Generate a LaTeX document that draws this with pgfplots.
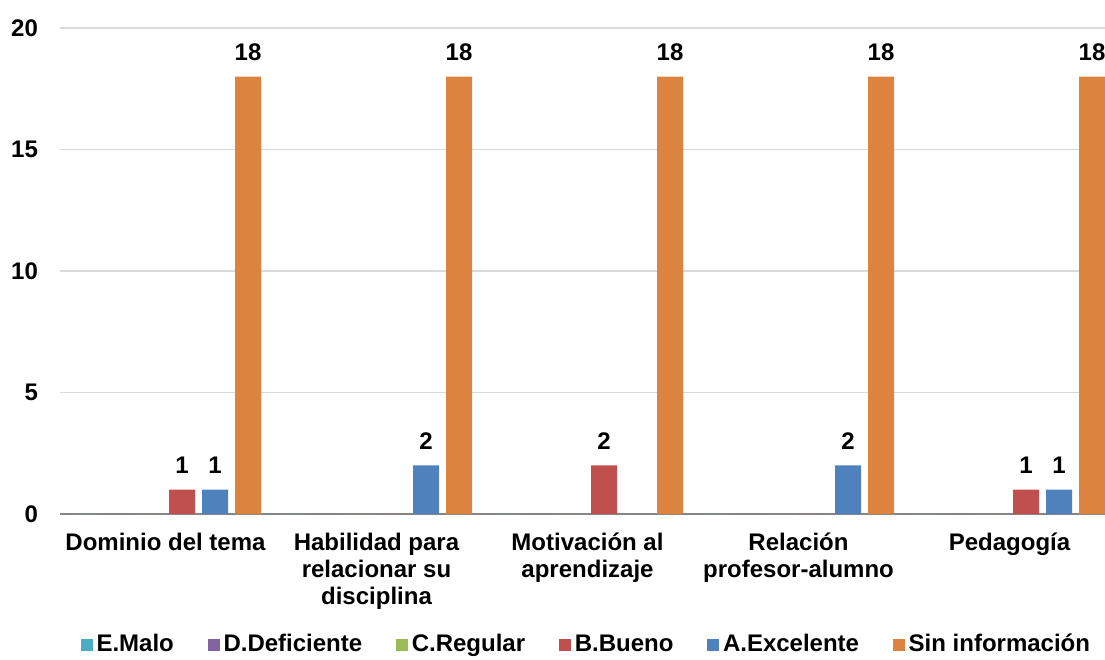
\documentclass[border=0pt]{standalone}
\usepackage{pgfplots}
\pgfplotsset{compat=1.18}
\usepackage{fontspec}
\setmainfont{Liberation Sans}
\definecolor{cMalo}{HTML}{4BACC6}
\definecolor{cDef}{HTML}{8064A2}
\definecolor{cReg}{HTML}{9BBB59}
\definecolor{cBueno}{HTML}{C0504D}
\definecolor{cExc}{HTML}{4F81BD}
\definecolor{cSin}{HTML}{DC843F}
\definecolor{gridgray}{HTML}{D9D9D9}
\definecolor{axisgray}{HTML}{868686}
\newcommand{\chartfont}{\fontsize{12}{13.5}\selectfont\bfseries}
\begin{document}
\begin{tikzpicture}
\begin{axis}[
  name=ax,
  scale only axis,
  width=527.5pt, height=243pt,
  ybar=3.5pt, bar width=13pt,
  xmin=-0.5, xmax=4.5, ymin=0, ymax=20,
  xtick={0,...,4},
  xticklabels={Dominio del tema, Habilidad para\\relacionar su\\disciplina, Motivación al\\aprendizaje, Relación\\profesor-alumno, Pedagogía},
  ytick={0,5,...,20},
  axis x line*=bottom, axis y line*=left,
  y axis line style={draw=none},
  x axis line style={draw=axisgray, line width=0.9pt},
  tick style={draw=none}, major tick length=0pt,
  ymajorgrids, grid style={draw=gridgray, line width=0.6pt},
  /pgf/number format/assume math mode=true,
  tick label style={font=\chartfont},
  xticklabel style={align=center, yshift=-6pt},
  yticklabel style={xshift=-7.5pt},
  nodes near coords={\pgfmathfloatifflags{\pgfplotspointmeta}{0}{}{\pgfmathprintnumber{\pgfplotspointmeta}}},
  every node near coord/.append style={font=\chartfont, text=black, yshift=4.5pt},
  legend columns=6,
  legend style={at={(0.5,-0.2695)}, anchor=center, draw=none, font=\chartfont,
    nodes={text height=1.75ex, text depth=0.5ex},
    /tikz/every even column/.append style={column sep=15pt}},
  legend image code/.code={\fill[#1] (0pt,-2.9pt) rectangle (5.8pt,2.9pt);},
]
\addplot[fill=cMalo, draw=none] coordinates {(0,0) (1,0) (2,0) (3,0) (4,0)};
\addlegendentry{E.Malo}
\addplot[fill=cDef, draw=none] coordinates {(0,0) (1,0) (2,0) (3,0) (4,0)};
\addlegendentry{D.Deficiente}
\addplot[fill=cReg, draw=none] coordinates {(0,0) (1,0) (2,0) (3,0) (4,0)};
\addlegendentry{C.Regular}
\addplot[fill=cBueno, draw=none] coordinates {(0,1) (1,0) (2,2) (3,0) (4,1)};
\addlegendentry{B.Bueno}
\addplot[fill=cExc, draw=none] coordinates {(0,1) (1,2) (2,0) (3,2) (4,1)};
\addlegendentry{A.Excelente}
\addplot[fill=cSin, draw=none] coordinates {(0,18) (1,18) (2,18) (3,18) (4,18)};
\addlegendentry{Sin información}
\end{axis}
\pgfresetboundingbox
\path[use as bounding box] ([xshift=-30pt,yshift=-72.5pt]ax.south west) rectangle ([xshift=-5pt,yshift=14pt]ax.north east);
\end{tikzpicture}
\end{document}
